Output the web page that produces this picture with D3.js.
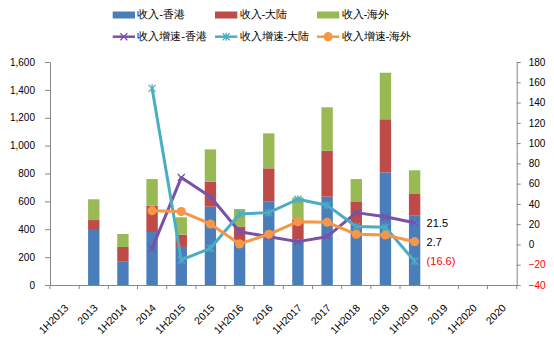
<!DOCTYPE html>
<html><head><meta charset="utf-8">
<script src="https://cdn.jsdelivr.net/npm/d3@7/dist/d3.min.js"></script>
<style>
body{margin:0;background:#fff;}
svg{display:block;}
text{font-family:"Liberation Sans",Arial,sans-serif;}
</style></head>
<body><svg id="c" width="554" height="343"></svg>
<script>
const categories = ["1H2013","2013","1H2014","2014","1H2015","2015","1H2016","2016","1H2017","2017","1H2018","2018","1H2019","2019","1H2020","2020"];
const revHK = [null,395,167,380,273,562,310,598,325,634,430,808,497,null,null,null];
const revML = [null,71,106,189,88,179,110,239,145,329,170,381,156,null,null,null];
const revOS = [null,149,93,191,125,232,125,251,158,312,160,334,170,null,null,null];
const growthHK = [null,null,null,-3.8,66,47,12.6,7.7,2.8,7.7,31.4,27.4,21.5,null,null,null];
const growthML = [null,null,null,154,-15.3,-3.8,30,31.4,44.6,38.7,17.6,17,-16.6,null,null,null];
const growthOS = [null,null,null,33.3,32.4,20.2,0.5,10,22.5,21.9,10,9.4,2.7,null,null,null];
const leftTicks = [0,200,400,600,800,1000,1200,1400,1600];
const rightTicks = [-40,-20,0,20,40,60,80,100,120,140,160,180];
const legendBars = ["收入-香港","收入-大陆","收入-海外"];
const legendLines = ["收入增速-香港","收入增速-大陆","收入增速-海外"];

const C = {hk:"#4A7EBB", ml:"#BE4B48", os:"#98B954", lhk:"#7851A9", lml:"#4BACC6", los:"#F79646", axis:"#868686"};
const svg = d3.select("#c");
const X0 = 50, X1 = 516.7, Y0 = 285, Y1 = 62;
const x = d3.scaleBand().domain(categories).range([X0, X1]).paddingInner(0).paddingOuter(0);
const yL = d3.scaleLinear().domain([0,1600]).range([Y0,Y1]);
const yR = d3.scaleLinear().domain([-40,180]).range([Y0,Y1]);
const bw = x.bandwidth()*0.39;
const cx = c => x(c) + x.bandwidth()/2;

// stacked bars
const stackData = categories.map((c,i)=>({cat:c, hk:revHK[i], ml:revML[i], os:revOS[i]})).filter(d=>d.hk!=null);
const stack = d3.stack().keys(["hk","ml","os"])(stackData);
const cols = [C.hk, C.ml, C.os];
stack.forEach((layer,k)=>{
  svg.append("g").selectAll("rect").data(layer).join("rect")
    .attr("x", d=>cx(d.data.cat)-bw/2).attr("width", bw)
    .attr("y", d=>yL(d[1])).attr("height", d=>yL(d[0])-yL(d[1]))
    .attr("fill", cols[k]);
});

// axes
const gL = svg.append("g").attr("transform",`translate(${X0},0)`)
  .call(d3.axisLeft(yL).tickValues(leftTicks).tickFormat(d3.format(",")).tickSize(5).tickSizeOuter(0).tickPadding(10));
const gR = svg.append("g").attr("transform",`translate(${X1},0)`)
  .call(d3.axisRight(yR).tickValues(rightTicks).tickSize(4).tickSizeOuter(0).tickPadding(8));
[gL,gR].forEach(g=>{
  g.select(".domain").attr("stroke",C.axis);
  g.selectAll(".tick line").attr("stroke",C.axis);
  g.selectAll("text").attr("font-size","10px").attr("fill","#000").attr("font-family","Liberation Sans, Arial, sans-serif");
});
gR.selectAll(".tick text").attr("fill", d=> d<0 ? "#FF0000" : "#000");

// x axis
const gX = svg.append("g").attr("transform",`translate(0,${Y0})`)
  .call(d3.axisBottom(x).tickSize(0).tickSizeOuter(0).tickPadding(0));
gX.select(".domain").attr("stroke",C.axis);
gX.selectAll(".tick text")
  .attr("font-size","10.5px").attr("fill","#000")
  .attr("text-anchor","end").attr("dy","0.35em")
  .attr("transform","translate(2,21) rotate(-45)")
  .attr("y",0).attr("x",0);
const bounds = categories.map(c=>x(c)).concat([X1]);
gX.append("g").selectAll("line").data(bounds).join("line")
  .attr("x1",d=>d).attr("x2",d=>d).attr("y1",0).attr("y2",4).attr("stroke",C.axis);

// lines
function marker(g, type, color, px, py){
  const s = 3.5;
  if(type==="x" || type==="star"){
    g.append("path").attr("d",`M${px-s},${py-s}L${px+s},${py+s}M${px-s},${py+s}L${px+s},${py-s}`+(type==="star"?`M${px},${py-s-0.5}L${px},${py+s+0.5}`:""))
     .attr("stroke",color).attr("stroke-width",1.3).attr("fill","none");
  } else {
    g.append("circle").attr("cx",px).attr("cy",py).attr("r",4.6).attr("fill",color);
  }
}
const series = [[growthHK,C.lhk,"x"],[growthML,C.lml,"star"],[growthOS,C.los,"circle"]];
series.forEach(([vals,color,type])=>{
  const pts = categories.map((c,i)=>({c,v:vals[i]})).filter(d=>d.v!=null);
  const line = d3.line().x(d=>cx(d.c)).y(d=>yR(d.v));
  const g = svg.append("g");
  g.append("path").attr("d",line(pts)).attr("fill","none").attr("stroke",color).attr("stroke-width",3).attr("stroke-linejoin","round");
  pts.forEach(p=>marker(g,type,color,cx(p.c),yR(p.v)));
});

// end labels
const lastIdx = 12;
const endLabels = [[growthHK[lastIdx],"#000"],[growthOS[lastIdx],"#000"],[growthML[lastIdx],"#FF0000"]];
endLabels.forEach(([v,col])=>{
  svg.append("text").attr("x", cx(categories[lastIdx])+12).attr("y", yR(v)+1)
    .attr("dominant-baseline","middle").attr("font-size","11px").attr("fill",col)
    .text(v<0 ? "("+d3.format(".1f")(-v)+")" : d3.format(".1f")(v));
});

// legend
const lx = [112.7, 215, 317];
const lg = svg.append("g").attr("font-family","'Noto Sans CJK SC',sans-serif");
legendBars.forEach((t,i)=>{
  lg.append("rect").attr("x",lx[i]).attr("y",11.5).attr("width",22.3).attr("height",7).attr("fill",cols[i]);
  lg.append("text").attr("x",lx[i]+24.5).attr("y",15.5).attr("dominant-baseline","middle")
    .attr("font-size","11.3px").attr("fill","#000").attr("font-family","'Noto Sans CJK SC',sans-serif").text(t);
});
legendLines.forEach((t,i)=>{
  const [,color,type] = series[i];
  const gy = 36.7;
  lg.append("line").attr("x1",lx[i]).attr("x2",lx[i]+22.3).attr("y1",gy).attr("y2",gy).attr("stroke",color).attr("stroke-width",2.5);
  marker(lg,type,color,lx[i]+11.15,gy);
  lg.append("text").attr("x",lx[i]+24.5).attr("y",gy+0.5).attr("dominant-baseline","middle")
    .attr("font-size","11.3px").attr("fill","#000").attr("font-family","'Noto Sans CJK SC',sans-serif").text(t);
});
</script></body></html>
